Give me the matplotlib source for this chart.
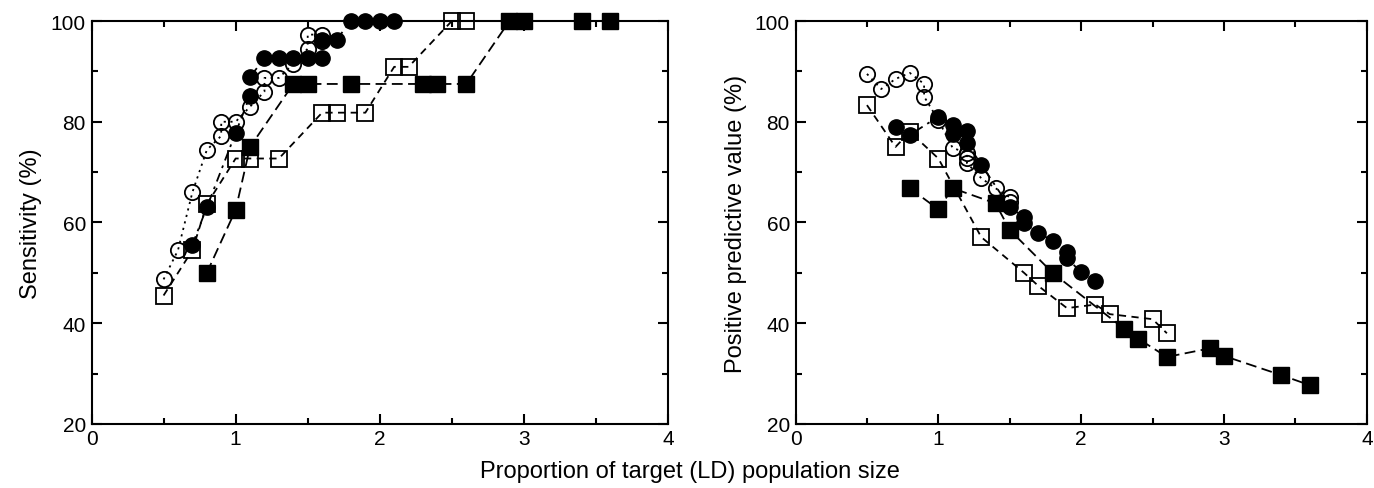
import matplotlib
matplotlib.use("Agg")
import matplotlib.pyplot as plt
from matplotlib.ticker import MultipleLocator

plt.rcParams["font.family"] = ["Liberation Sans", "DejaVu Sans"]

# sensitivity panel
sens_oc_x = [0.5, 0.6, 0.7, 0.8, 0.9, 0.9, 1.0, 1.1, 1.2, 1.2, 1.3, 1.4, 1.5, 1.5, 1.6, 1.6]
sens_oc_y = [48.7, 54.5, 66.0, 74.4, 77.2, 80.0, 80.0, 83.0, 86.0, 88.7, 88.7, 91.5, 94.5, 97.3, 97.3, 96.0]
sens_fc_x = [0.7, 0.8, 1.0, 1.1, 1.1, 1.2, 1.3, 1.4, 1.5, 1.6, 1.6, 1.7, 1.8, 1.9, 2.0, 2.1]
sens_fc_y = [55.6, 63.0, 77.8, 85.2, 88.9, 92.6, 92.6, 92.6, 92.6, 92.6, 96.3, 96.3, 100, 100, 100, 100]
sens_os_x = [0.5, 0.7, 0.8, 1.0, 1.1, 1.3, 1.6, 1.7, 1.9, 2.1, 2.2, 2.5, 2.6]
sens_os_y = [45.5, 54.5, 63.6, 72.7, 72.7, 72.7, 81.8, 81.8, 81.8, 90.9, 90.9, 100, 100]
sens_fs_x = [0.8, 1.0, 1.1, 1.4, 1.5, 1.8, 2.3, 2.4, 2.6, 2.9, 3.0, 3.4, 3.6]
sens_fs_y = [50.0, 62.5, 75.0, 87.5, 87.5, 87.5, 87.5, 87.5, 87.5, 100, 100, 100, 100]

# positive predictive value panel
ppv_oc_x = [0.5, 0.6, 0.7, 0.8, 0.9, 0.9, 1.0, 1.1, 1.2, 1.2, 1.2, 1.3, 1.4, 1.5, 1.5]
ppv_oc_y = [89.5, 86.5, 88.5, 89.7, 87.5, 85.0, 80.3, 74.8, 73.8, 72.8, 71.8, 68.8, 66.8, 65.0, 64.0]
ppv_fc_x = [0.7, 0.8, 1.0, 1.1, 1.1, 1.2, 1.2, 1.3, 1.5, 1.6, 1.6, 1.7, 1.8, 1.9, 1.9, 2.0, 2.1]
ppv_fc_y = [79.0, 77.4, 81.0, 79.4, 77.5, 78.1, 75.8, 71.5, 63.0, 61.0, 59.8, 57.9, 56.4, 54.2, 52.9, 50.1, 48.3]
ppv_os_x = [0.5, 0.7, 0.8, 1.0, 1.3, 1.6, 1.7, 1.9, 2.1, 2.2, 2.5, 2.6]
ppv_os_y = [83.3, 75.0, 78.0, 72.7, 57.1, 50.0, 47.4, 43.0, 43.7, 41.8, 40.8, 38.0]
ppv_fs_x = [0.8, 1.0, 1.1, 1.4, 1.5, 1.8, 2.3, 2.4, 2.6, 2.9, 3.0, 3.4, 3.6]
ppv_fs_y = [66.8, 62.6, 66.8, 63.8, 58.5, 50.0, 38.9, 36.9, 33.3, 35.0, 33.5, 29.7, 27.7]

fig = plt.figure(figsize=(13.74, 4.89), dpi=100)
ax1 = fig.add_axes([0.0666, 0.131, 0.4196, 0.824])
ax2 = fig.add_axes([0.579, 0.131, 0.4158, 0.824])

ms = 11
lw = 1.3


def draw(ax, oc, fc, os_, fs):
    ax.plot(*fs, color="black", linestyle=(0, (6, 3)), lw=lw, clip_on=False,
            marker="s", ms=ms, mfc="black", mec="black", zorder=3)
    ax.plot(*os_, color="black", linestyle=(0, (4, 3)), lw=lw, clip_on=False,
            marker="s", ms=ms, mfc="none", mec="black", mew=1.3, zorder=4)
    ax.plot(*fc, color="black", linestyle=(0, (5, 3, 1.5, 3)), lw=lw, clip_on=False,
            marker="o", ms=ms, mfc="black", mec="black", zorder=5)
    ax.plot(*oc, color="black", linestyle=(0, (1.2, 2.5)), lw=lw, clip_on=False,
            marker="o", ms=ms, mfc="none", mec="black", mew=1.3, zorder=6)


draw(ax1, (sens_oc_x, sens_oc_y), (sens_fc_x, sens_fc_y),
     (sens_os_x, sens_os_y), (sens_fs_x, sens_fs_y))
draw(ax2, (ppv_oc_x, ppv_oc_y), (ppv_fc_x, ppv_fc_y),
     (ppv_os_x, ppv_os_y), (ppv_fs_x, ppv_fs_y))

for ax in (ax1, ax2):
    ax.set_xlim(0, 4)
    ax.set_ylim(20, 100)
    ax.xaxis.set_major_locator(MultipleLocator(1))
    ax.xaxis.set_minor_locator(MultipleLocator(0.5))
    ax.yaxis.set_major_locator(MultipleLocator(20))
    ax.yaxis.set_minor_locator(MultipleLocator(10))
    ax.tick_params(which="both", direction="in", top=True, right=True,
                   width=1.5, labelsize=15, pad=4)
    ax.tick_params(which="major", length=7)
    ax.tick_params(which="minor", length=4)
    for s in ax.spines.values():
        s.set_linewidth(1.5)

ax1.set_ylabel("Sensitivity (%)", fontsize=17, labelpad=6)
ax2.set_ylabel("Positive predictive value (%)", fontsize=17, labelpad=6)
fig.text(0.502, 0.012, "Proportion of target (LD) population size",
         ha="center", va="bottom", fontsize=17)

fig.savefig("out.png", dpi=100)
